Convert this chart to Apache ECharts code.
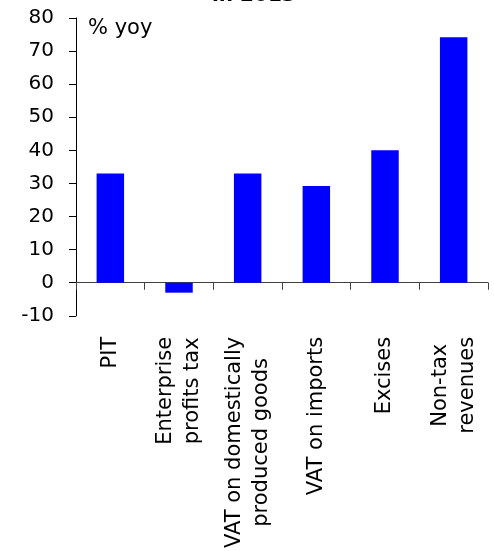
<!DOCTYPE html>
<html>
<head>
<meta charset="utf-8">
<script src="https://cdn.jsdelivr.net/npm/echarts@6/dist/echarts.min.js"></script>
<style>
  html, body { margin: 0; padding: 0; background: #fff; }
  #chart { width: 494px; height: 551px; }
</style>
</head>
<body>
<div id="chart"></div>
<script>
// Year-on-year growth of budget revenue items, 2013
const categories = [
  'PIT',
  'Enterprise\nprofits tax',
  'VAT on domestically\nproduced goods',
  'VAT on imports',
  'Excises',
  'Non-tax\nrevenues'
];
const growthYoy = [33, -3, 33, 29.2, 40, 74.2];
const yMin = -10;
const yMax = 80;
const yStep = 10;

const FONT = '"DejaVu Sans", Verdana, sans-serif';

const chart = echarts.init(document.getElementById('chart'), null, { renderer: 'canvas' });

chart.setOption({
  animation: false,
  backgroundColor: '#ffffff',
  grid: { left: 76, right: 6, top: 18, bottom: 229, containLabel: false },
  graphic: [
    {
      type: 'text',
      left: 212,
      top: -14,
      style: { text: 'in 2013', font: 'bold 20px ' + FONT, fill: '#000' }
    },
    {
      type: 'text',
      left: 88,
      top: 18,
      style: { text: '% yoy', font: '21px ' + FONT, fill: '#000' }
    }
  ],
  xAxis: {
    type: 'category',
    data: categories,
    axisLine: { onZero: true, lineStyle: { color: '#404040', width: 1 } },
    axisTick: { show: true, inside: false, length: 7, alignWithLabel: false, lineStyle: { color: '#404040' } },
    axisLabel: {
      interval: 0,
      rotate: 90,
      margin: 21,
      formatter: function (v) {
        return v.split('\n').map(function (l) { return '{c|' + l + '}'; }).join('\n');
      },
      rich: {
        c: { align: 'center', fontSize: 21, lineHeight: 27, fontFamily: FONT, color: '#000' }
      }
    },
    splitLine: { show: false }
  },
  yAxis: {
    type: 'value',
    min: yMin,
    max: yMax,
    interval: yStep,
    axisLine: { show: true, lineStyle: { color: '#000', width: 1 } },
    axisTick: { show: true, length: 7, lineStyle: { color: '#000' } },
    axisLabel: { margin: 22, fontSize: 20, fontFamily: FONT, color: '#000' },
    splitLine: { show: false }
  },
  series: [{
    type: 'bar',
    data: growthYoy,
    barWidth: '40%',
    itemStyle: { color: '#0000ff' }
  }]
});
</script>
</body>
</html>
